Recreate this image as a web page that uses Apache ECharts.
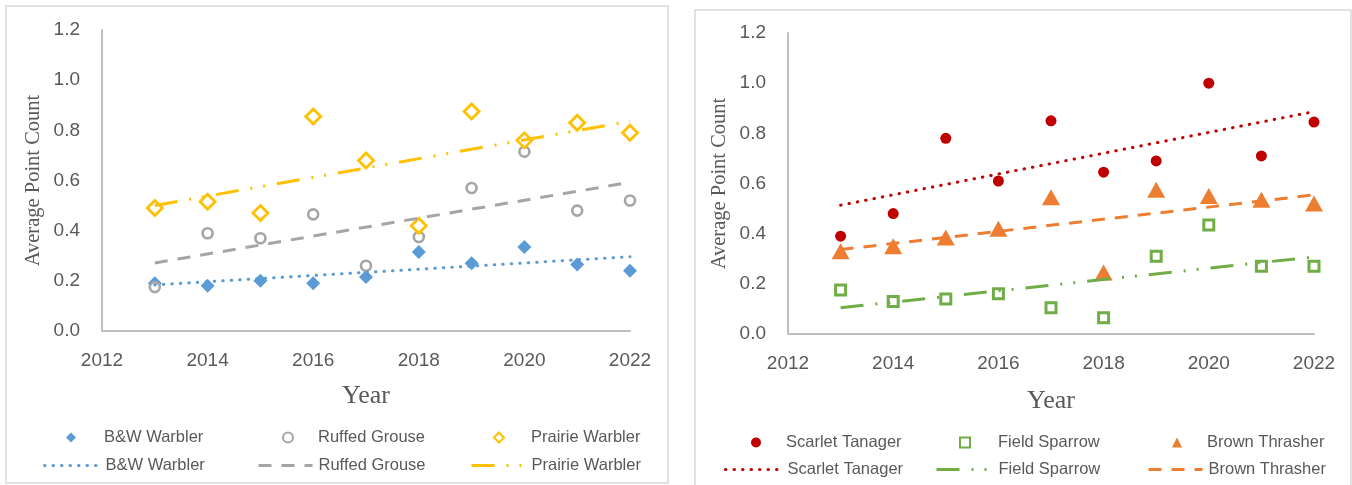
<!DOCTYPE html>
<html lang="en">
<head>
	<meta charset="UTF-8">
	<title>point counts</title>
	<script src="https://cdn.jsdelivr.net/npm/echarts@6/dist/echarts.min.js"></script>
	<style type="text/css">
	body{margin:0;padding:0;background:#fff;}
	#main{width:1352px;height:485px;}
	</style>
</head>
<body>
	<div id="main"></div>
	<script>
		var years = [2013, 2014, 2015, 2016, 2017, 2018, 2019, 2020, 2021, 2022];
		var bwWarbler = [0.19, 0.18, 0.20, 0.19, 0.215, 0.315, 0.27, 0.335, 0.265, 0.24];
		var ruffedGrouse = [0.175, 0.39, 0.37, 0.465, 0.26, 0.375, 0.57, 0.715, 0.48, 0.52];
		var prairieWarbler = [0.49, 0.515, 0.47, 0.855, 0.68, 0.42, 0.875, 0.76, 0.83, 0.79];
		var scarletTanager = [0.39, 0.48, 0.78, 0.61, 0.85, 0.645, 0.69, 1.0, 0.71, 0.845];
		var fieldSparrow = [0.175, 0.13, 0.14, 0.16, 0.105, 0.065, 0.31, 0.435, 0.27, 0.27];
		var brownThrasher = [0.33, 0.35, 0.385, 0.42, 0.545, 0.245, 0.575, 0.55, 0.535, 0.52];

		var myChart = echarts.init(document.getElementById('main'));
		var textColor = '#595959';
		var axisColor = '#BFBFBF';

		function pairs(vals){
			return years.map(function(y, i){ return [y, vals[i]]; });
		}

		// least squares trendline, evaluated at first and last year
		function trend(vals){
			var n = years.length, mx = 0, my = 0, sxy = 0, sxx = 0;
			for (var i = 0; i < n; i++){ mx += years[i]; my += vals[i]; }
			mx /= n; my /= n;
			for (var j = 0; j < n; j++){
				sxy += (years[j] - mx) * (vals[j] - my);
				sxx += (years[j] - mx) * (years[j] - mx);
			}
			var b = sxy / sxx;
			var x0 = years[0], x1 = years[n - 1];
			return [[x0, my + b * (x0 - mx)], [x1, my + b * (x1 - mx)]];
		}

		function scatter(name, vals, idx, symbol, size, style){
			style.opacity = 1;
			return {
				name: name, type: 'scatter', xAxisIndex: idx, yAxisIndex: idx,
				data: pairs(vals), symbol: symbol, symbolSize: size,
				itemStyle: style, z: 2
			};
		}

		function trendLine(name, vals, idx, color, dash, cap){
			return {
				name: name + ' trend', type: 'line', xAxisIndex: idx, yAxisIndex: idx,
				data: trend(vals), symbol: 'none', silent: true, z: 3,
				lineStyle: {color: color, width: 3, type: dash, cap: cap || 'butt'}
			};
		}

		function xAxis(idx){
			return {
				type: 'value', gridIndex: idx, min: 2012, max: 2022, interval: 2,
				name: 'Year', nameLocation: 'middle', nameGap: 52 + idx * 2,
				nameTextStyle: {fontFamily: 'Liberation Serif', fontSize: 26, color: textColor},
				axisLine: {show: true, onZero: false, lineStyle: {color: axisColor, width: 2}},
				axisTick: {show: false}, splitLine: {show: false},
				axisLabel: {color: textColor, fontSize: 19, fontFamily: 'Liberation Sans', margin: 20,
					formatter: function(v){ return String(v); }}
			};
		}

		function yAxis(idx){
			return {
				type: 'value', gridIndex: idx, min: 0, max: 1.2, interval: 0.2,
				name: 'Average Point Count', nameLocation: 'middle', nameGap: 58,
				nameTextStyle: {fontFamily: 'Liberation Serif', fontSize: 20.5, color: textColor},
				axisLine: {show: true, onZero: false, lineStyle: {color: axisColor, width: 2}},
				axisTick: {show: false}, splitLine: {show: false},
				axisLabel: {color: textColor, fontSize: 19, fontFamily: 'Liberation Sans', margin: 22,
					formatter: function(v){ return v.toFixed(1); }}
			};
		}

		// one legend per entry so marker rows and line rows line up in columns
		function legendItem(name, isLine, iconX, textX, centerY){
			var w = isLine ? 54 : 10;
			var left = isLine ? iconX : iconX - 5;
			var item = isLine ? {name: name + ' trend', itemStyle: {opacity: 0}, lineStyle: {width: 3}} : {name: name};
			return {
				orient: 'horizontal', left: left, top: centerY - 11, data: [item],
				itemWidth: w, itemHeight: 10,
				textStyle: {color: textColor, fontSize: 16.5, fontFamily: 'Liberation Sans',
					padding: [0, 0, 0, Math.max(0, textX - (left + w + 10))]},
				formatter: function(n){ return n.replace(' trend', ''); }
			};
		}

		var legendCols = [
			['B&W Warbler', 66, 38, 104, 435, 463],
			['Ruffed Grouse', 282, 252, 317, 435, 463],
			['Prairie Warbler', 493, 465, 530, 435, 463],
			['Scarlet Tanager', 751, 719, 786, 440, 467],
			['Field Sparrow', 959, 930, 997, 440, 467],
			['Brown Thrasher', 1172, 1142, 1207, 440, 467]
		];
		var legends = [];
		legendCols.forEach(function(c){
			legends.push(legendItem(c[0], false, c[1], c[3], c[4]));
			legends.push(legendItem(c[0], true, c[2], c[3], c[5]));
		});

		var dotted = [0.5, 8];
		var dashed = [13, 10];
		var dashDotDot = [23, 12, 2, 11, 2, 12];

		var option = {
			animation: false,
			graphic: [
				{type: 'rect', shape: {x: 6, y: 6, width: 662, height: 477}, style: {fill: 'none', stroke: '#D9D9D9', lineWidth: 1.5}},
				{type: 'rect', shape: {x: 695, y: 10, width: 656, height: 490}, style: {fill: 'none', stroke: '#D9D9D9', lineWidth: 1.5}}
			],
			grid: [
				{left: 102, right: 722, top: 30, bottom: 154},
				{left: 788, right: 38, top: 33, bottom: 151}
			],
			xAxis: [xAxis(0), xAxis(1)],
			yAxis: [yAxis(0), yAxis(1)],
			legend: legends,
			series: [
				scatter('B&W Warbler', bwWarbler, 0, 'diamond', 14, {color: '#5B9BD5'}),
				scatter('Ruffed Grouse', ruffedGrouse, 0, 'circle', 10, {color: '#fff', borderColor: '#A5A5A5', borderWidth: 2.6}),
				scatter('Prairie Warbler', prairieWarbler, 0, 'diamond', 15, {color: '#fff', borderColor: '#FFC000', borderWidth: 2.8}),
				trendLine('B&W Warbler', bwWarbler, 0, '#5B9BD5', dotted, 'round'),
				trendLine('Ruffed Grouse', ruffedGrouse, 0, '#A5A5A5', dashed),
				trendLine('Prairie Warbler', prairieWarbler, 0, '#FFC000', dashDotDot),
				scatter('Scarlet Tanager', scarletTanager, 1, 'circle', 11, {color: '#C00000'}),
				scatter('Field Sparrow', fieldSparrow, 1, 'rect', 10, {color: '#fff', borderColor: '#70AD47', borderWidth: 3}),
				scatter('Brown Thrasher', brownThrasher, 1, 'triangle', [18, 16], {color: '#ED7D31'}),
				trendLine('Scarlet Tanager', scarletTanager, 1, '#C00000', dotted, 'round'),
				trendLine('Field Sparrow', fieldSparrow, 1, '#70AD47', dashDotDot),
				trendLine('Brown Thrasher', brownThrasher, 1, '#ED7D31', dashed)
			]
		};
		myChart.setOption(option);
	</script>
</body>
</html>
